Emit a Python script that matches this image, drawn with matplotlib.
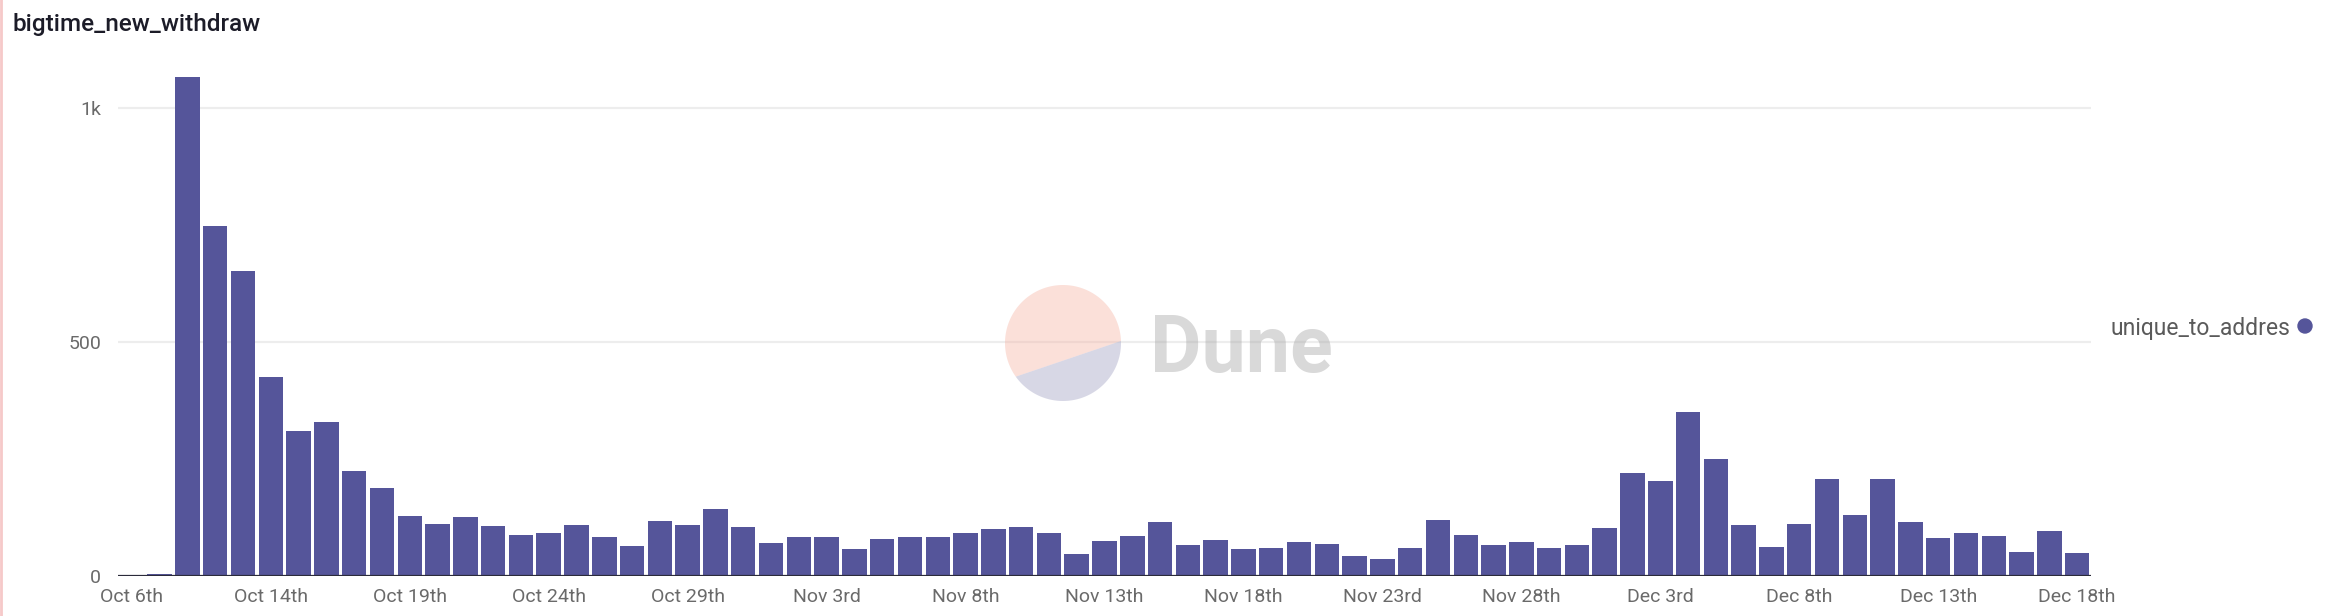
import matplotlib
matplotlib.use("Agg")
import matplotlib.pyplot as plt
import numpy as np
import pandas as pd
from matplotlib.patches import Circle, Polygon

# ---- data ----
categories = ["2023-10-06"] + list(pd.date_range("2023-10-10", "2023-12-18").strftime("%Y-%m-%d"))
unique_to_address = [2, 3, 1067, 748, 651, 424, 309, 328, 224, 187,
                     128, 111, 125, 107, 87, 92, 109, 82, 63, 116,
                     109, 143, 103, 70, 82, 83, 57, 79, 82, 82,
                     91, 100, 103, 92, 46, 73, 84, 115, 65, 76,
                     56, 58, 71, 67, 42, 36, 58, 118, 87, 66,
                     72, 60, 66, 101, 220, 202, 350, 250, 109, 62,
                     111, 207, 130, 207, 114, 80, 92, 84, 50, 95, 48]
tick_labels = ["Oct 6th", "Oct 14th", "Oct 19th", "Oct 24th", "Oct 29th",
               "Nov 3rd", "Nov 8th", "Nov 13th", "Nov 18th", "Nov 23rd",
               "Nov 28th", "Dec 3rd", "Dec 8th", "Dec 13th", "Dec 18th"]
y_ticks = [0, 500, 1000]
y_tick_labels = ["0", "500", "1k"]
title = "bigtime_new_withdraw"
series_name = "unique_to_addres"

W, H = 2331, 616
plt.rcParams['font.family'] = ['Roboto', 'DejaVu Sans']

fig = plt.figure(figsize=(W / 100, H / 100), dpi=100)
fig.patch.set_facecolor("white")

# main axes (pixel geometry)
x0, x1 = 118, 2091
yb, yt = 575.6, 61.2
ax = fig.add_axes([x0 / W, (H - yb) / H, (x1 - x0) / W, (yb - yt) / H])
ax.set_facecolor("none")

x = np.arange(len(categories))
bar_color = "#55559a"
ax.bar(x, unique_to_address, width=0.88, color=bar_color, zorder=3)
ax.set_xlim(-0.5, len(categories) - 0.5)
ax.set_ylim(0, 1100)

for yv in y_ticks[1:]:
    ax.axhline(yv, color="#ededed", lw=1.6, zorder=1)
ax.axhline(0, color="#2b2b3a", lw=1.6, zorder=4)

for s in ax.spines.values():
    s.set_visible(False)

ax.set_yticks(y_ticks)
ax.set_yticklabels(y_tick_labels)
tick_pos = x[::5]
ax.set_xticks(tick_pos)
ax.set_xticklabels(tick_labels)
ax.tick_params(axis="both", length=0, labelsize=14, labelcolor="#6a6a6a")
ax.tick_params(axis="y", pad=12)
ax.tick_params(axis="x", pad=9)

# overlay for title, legend, watermark
ov = fig.add_axes([0, 0, 1, 1])
ov.set_xlim(0, W)
ov.set_ylim(H, 0)
ov.axis("off")
ov.set_facecolor("none")

ov.text(13, 25, title, fontsize=17.5, color="#1c1c28", ha="left", va="center",
        fontweight="medium")
ov.text(2110, 328, series_name, fontsize=16.5, color="#5a5a5a", ha="left", va="center")
ov.add_patch(Circle((2305, 326), 7, color=bar_color))
ov.plot([1, 1], [0, H], color="#f6c9c9", lw=2)

# Dune watermark
cx, cy, r = 1063, 343, 58
a_right = np.arctan2(341 - cy, 1120.7 - cx)
a_left = np.arctan2(376 - cy, 1016.7 - cx)
# pink region (top)
angs = np.linspace(a_right, a_left - 2 * np.pi, 150)
pts = np.column_stack([cx + r * np.cos(angs), cy + r * np.sin(angs)])
ov.add_patch(Polygon(pts, closed=True, facecolor="#f5b2a2", edgecolor="none", alpha=0.4))
# lavender region (bottom)
angs2 = np.linspace(a_right, a_left, 150)
pts2 = np.column_stack([cx + r * np.cos(angs2), cy + r * np.sin(angs2)])
ov.add_patch(Polygon(pts2, closed=True, facecolor="#9d9dc0", edgecolor="none", alpha=0.4))
ov.text(1150, 372, "Dune", fontsize=57, fontweight="bold", color="#a0a0a0", alpha=0.4,
        ha="left", va="baseline")

fig.savefig("out.png", dpi=100, facecolor="white")
